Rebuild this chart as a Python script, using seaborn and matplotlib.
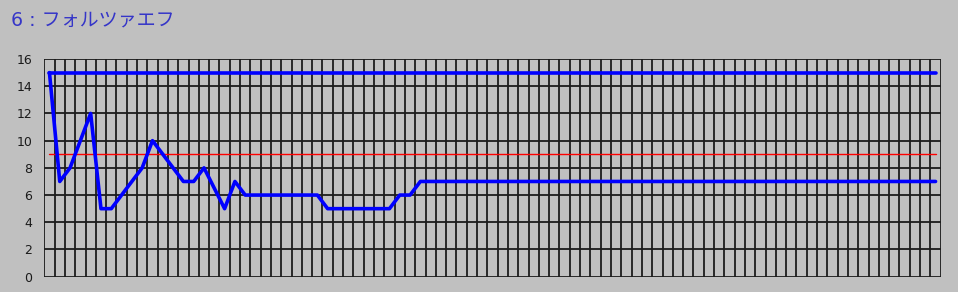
import numpy as np
import pandas as pd
import matplotlib
matplotlib.use("Agg")
import matplotlib.pyplot as plt
import seaborn as sns

# ---- data ----
title_text = "6 : フォルツァエフ"
upper_limit = 15
threshold = 9
values = [15, 7, 8, 10, 12, 5, 5, 6, 7, 8,
          10, 9, 8, 7, 7, 8, 6.5, 5, 7, 6,
          6, 6, 6, 6, 6, 6, 6, 5, 5, 5,
          5, 5, 5, 5, 6, 6, 7, 7, 7, 7,
          7, 7, 7, 7, 7, 7, 7, 7, 7, 7,
          7, 7, 7, 7, 7, 7, 7, 7, 7, 7,
          7, 7, 7, 7, 7, 7, 7, 7, 7, 7,
          7, 7, 7, 7, 7, 7, 7, 7, 7, 7,
          7, 7, 7, 7, 7, 7, 7]
points = list(range(len(values)))
y_ticks = [0, 2, 4, 6, 8, 10, 12, 14, 16]

df = pd.DataFrame({
    "point": points,
    "value": values,
    "upper": [upper_limit] * len(points),
    "threshold": [threshold] * len(points),
})

sns.set_style("white")
plt.rcParams["font.family"] = ["DejaVu Sans"]

bg = "#c0c0c0"
fig = plt.figure(figsize=(9.58, 2.92), dpi=100, facecolor=bg)
W, H = 958, 292
left, right, top, bottom = 44.3, 940.7, 59.0, 276.7
ax = fig.add_axes([left / W, 1 - bottom / H, (right - left) / W, (bottom - top) / H])
ax.set_facecolor(bg)

grid_c = "#1c1c1c"
grid_lw = 1.3

ax.set_xlim(-0.5, len(points) - 0.5)
ax.set_ylim(0, 16)
ax.set_xticks(np.arange(-0.5, len(points), 1.0))
ax.set_yticks(y_ticks)
ax.grid(True, which="major", axis="both", color=grid_c, linewidth=grid_lw)
ax.set_axisbelow(True)
for s in ax.spines.values():
    s.set_visible(False)

sns.lineplot(data=df, x="point", y="upper", ax=ax, color="#0000ff", linewidth=2.6, zorder=3)
sns.lineplot(data=df, x="point", y="threshold", ax=ax, color="#ff0000", linewidth=1.0, zorder=3)
sns.lineplot(data=df, x="point", y="value", ax=ax, color="#0000ff", linewidth=2.6, zorder=4)

ax.set_xlabel("")
ax.set_ylabel("")
ax.tick_params(axis="x", which="both", length=0, labelbottom=False)
ax.tick_params(axis="y", which="major", length=3.6, width=grid_lw, color=grid_c,
               direction="out", pad=5, labelsize=9, labelcolor="#1a1a1a")

fig.text(11 / W, 1 - 25.7 / H, title_text, color="#3535c8", fontsize=13.7,
         family=["DejaVu Sans", "Noto Sans CJK JP"], va="baseline", ha="left")

fig.savefig("out.png", dpi=100, facecolor=bg)
